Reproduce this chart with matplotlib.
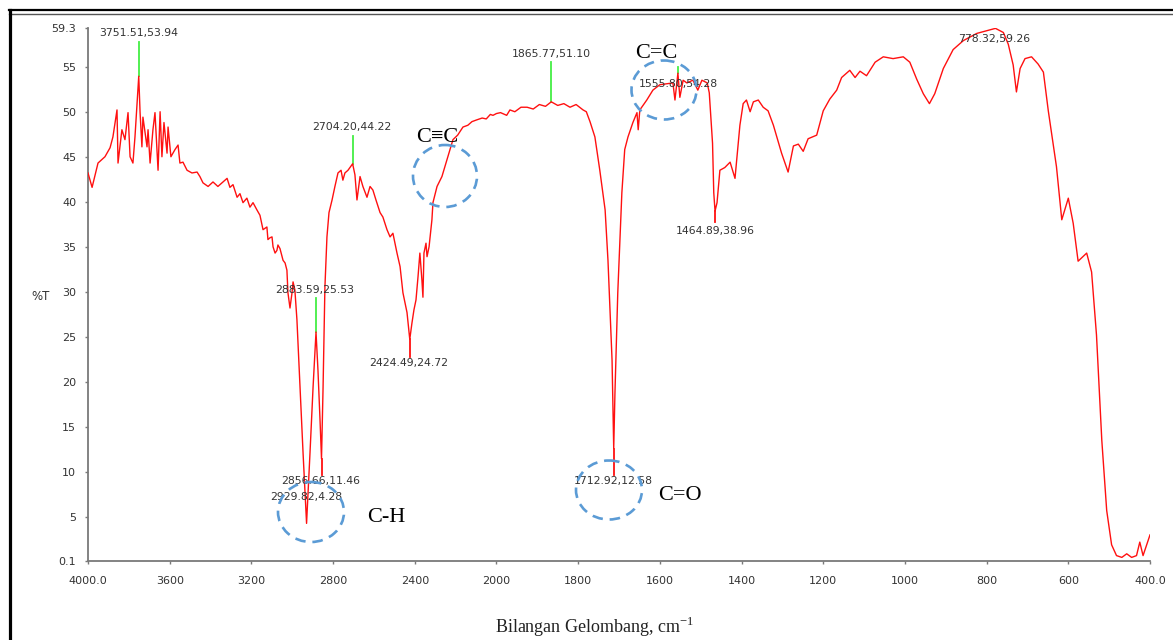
import matplotlib
matplotlib.use("Agg")
import matplotlib.pyplot as plt
from matplotlib.patches import Ellipse
import numpy as np

# FTIR spectrum (wavenumber in cm-1, %T)
wavenumber = [
    4000, 3980, 3951, 3917, 3892, 3878, 3858, 3853, 3834, 3819,
    3804, 3794, 3780, 3770, 3751.51, 3745, 3736, 3731, 3711, 3706,
    3696, 3682, 3672, 3657, 3647, 3638, 3628, 3613, 3608, 3594,
    3574, 3559, 3550, 3535, 3515, 3491, 3466, 3452, 3437, 3412,
    3388, 3364, 3339, 3319, 3305, 3290, 3270, 3256, 3241, 3222,
    3207, 3192, 3173, 3158, 3143, 3124, 3119, 3109, 3099, 3094,
    3084, 3075, 3070, 3060, 3050, 3045, 3035, 3026, 3021, 3011,
    3001, 2996, 2987, 2977, 2962, 2947, 2929.82, 2913, 2898, 2883.59,
    2874, 2864, 2856.66, 2849, 2840, 2830, 2820, 2805, 2791, 2776,
    2761, 2752, 2742, 2727, 2704.20, 2693, 2683, 2668, 2654, 2634,
    2619, 2605, 2590, 2570, 2556, 2536, 2521, 2507, 2487, 2472,
    2458, 2438, 2424.49, 2414, 2404, 2394, 2384, 2375, 2365, 2360,
    2355, 2345, 2340, 2330, 2316, 2311, 2291, 2267, 2242, 2228,
    2213, 2190, 2164, 2140, 2120, 2096, 2070, 2050, 2030, 2017,
    2000, 1990, 1975, 1967, 1955, 1940, 1925, 1910, 1895, 1880,
    1865.77, 1850, 1835, 1820, 1805, 1788, 1780, 1771, 1759, 1747,
    1734, 1727, 1717, 1712.92, 1710, 1703, 1693, 1686, 1678, 1666,
    1656, 1653, 1649, 1632, 1617, 1600, 1568, 1563, 1555.80, 1551,
    1543, 1534, 1519, 1507, 1497, 1484, 1479, 1471, 1468, 1464.89,
    1460, 1453, 1441, 1428, 1416, 1409, 1404, 1396, 1388, 1379,
    1371, 1359, 1347, 1335, 1322, 1302, 1286, 1273, 1261, 1249,
    1237, 1216, 1200, 1184, 1167, 1155, 1135, 1122, 1110, 1094,
    1073, 1053, 1029, 1004, 988, 971, 955, 940, 927, 906,
    882, 857, 824, 778.32, 759, 747, 735, 727, 718, 706,
    690, 674, 661, 649, 629, 616, 600, 588, 576, 555,
    543, 531, 518, 506, 494, 482, 469, 457, 445, 433,
    425, 417, 408, 400,
]
transmittance = [
    43.2, 41.6, 44.3, 45.0, 46.0, 47.2, 50.2, 44.3, 48.0, 46.9,
    49.9, 45.0, 44.3, 47.2, 53.94, 49.9, 46.1, 49.4, 46.1, 48.0,
    44.3, 48.0, 49.9, 43.5, 50.0, 45.0, 48.8, 45.4, 48.3, 45.0,
    45.8, 46.3, 44.3, 44.4, 43.5, 43.2, 43.3, 42.8, 42.1, 41.7,
    42.2, 41.7, 42.2, 42.6, 41.6, 41.9, 40.5, 40.9, 39.9, 40.4,
    39.4, 39.9, 39.1, 38.5, 36.9, 37.2, 35.8, 36.0, 36.1, 35.0,
    34.3, 34.6, 35.2, 34.8, 33.9, 33.5, 33.2, 32.4, 29.9, 28.2,
    29.9, 31.1, 30.2, 26.9, 19.4, 12.1, 4.28, 12.1, 19.4, 25.53,
    21.3, 15.8, 11.46, 19.4, 30.5, 36.1, 38.8, 40.2, 41.7, 43.2,
    43.5, 42.4, 43.2, 43.5, 44.22, 43.0, 40.2, 42.8, 41.7, 40.5,
    41.7, 41.3, 40.2, 38.8, 38.3, 36.9, 36.1, 36.5, 34.3, 32.8,
    29.9, 27.7, 24.72, 26.5, 28.0, 29.1, 31.7, 34.3, 31.3, 29.4,
    34.3, 35.4, 33.9, 35.0, 38.0, 39.9, 41.7, 42.8, 44.7, 45.8,
    46.9, 47.4, 48.3, 48.5, 48.9, 49.1, 49.3, 49.2, 49.7, 49.6,
    49.8, 49.9, 49.6, 50.2, 50.0, 50.5, 50.5, 50.3, 50.8, 50.6,
    51.10, 50.7, 50.9, 50.5, 50.8, 50.2, 50.0, 48.9, 47.2, 43.5,
    39.1, 33.5, 22.4, 12.58, 18.6, 29.9, 41.0, 45.8, 47.2, 48.8,
    49.9, 48.0, 50.2, 51.3, 52.4, 53.0, 53.2, 51.3, 54.28, 51.6,
    53.5, 53.2, 53.5, 52.4, 53.5, 53.2, 52.1, 46.5, 41.0, 38.96,
    39.9, 43.5, 43.8, 44.4, 42.6, 46.1, 48.5, 50.9, 51.3, 50.0,
    51.1, 51.3, 50.5, 50.1, 48.5, 45.4, 43.3, 46.2, 46.4, 45.6,
    47.0, 47.4, 50.1, 51.4, 52.4, 53.8, 54.6, 53.8, 54.5, 54.0,
    55.5, 56.1, 55.9, 56.1, 55.5, 53.6, 52.0, 50.9, 52.0, 54.8,
    56.9, 57.9, 58.7, 59.26, 58.8, 57.5, 55.2, 52.2, 54.8, 55.9,
    56.1, 55.3, 54.4, 50.1, 43.9, 38.0, 40.4, 37.6, 33.4, 34.3,
    32.2, 25.2, 13.5, 5.7, 1.9, 0.7, 0.5, 0.9, 0.5, 0.7,
    2.2, 0.7, 1.9, 3.0,
]

# picked peaks
peak_wn = [3751.51, 2929.82, 2883.59, 2856.66, 2704.20, 2424.49,
           1865.77, 1712.92, 1555.80, 1464.89, 778.32]
peak_t = [53.94, 4.28, 25.53, 11.46, 44.22, 24.72,
          51.10, 12.58, 54.28, 38.96, 59.26]

x_ticks = [4000, 3600, 3200, 2800, 2400, 2000, 1800, 1600, 1400, 1200, 1000, 800, 600, 400]
x_tick_labels = ["4000.0", "3600", "3200", "2800", "2400", "2000", "1800", "1600",
                 "1400", "1200", "1000", "800", "600", "400.0"]
y_ticks = [0.1, 5, 10, 15, 20, 25, 30, 35, 40, 45, 50, 55, 59.3]
y_tick_labels = ["0.1", "5", "10", "15", "20", "25", "30", "35", "40", "45", "50", "55", "59.3"]

groups = ["C-H", "C=O", "C\u2261C", "C=C"]


# the spectrometer plot squeezes 4000-2000 to half scale
def fwd(x):
    x = np.asarray(x, dtype=float)
    return np.where(x > 2000, 2000 + (x - 2000) / 2.0, x)


def inv(u):
    u = np.asarray(u, dtype=float)
    return np.where(u > 2000, 2000 + (u - 2000) * 2.0, u)


W, H = 1173, 640
fig = plt.figure(figsize=(W / 100, H / 100), dpi=100)
ax = fig.add_axes([88 / W, 1 - 561 / H, 1062 / W, 533 / H])
ax.set_xscale('function', functions=(fwd, inv))
ax.set_xlim(4000, 400)
ax.set_ylim(0.1, 59.3)

ax.plot(wavenumber, transmittance, color='#ff1010', lw=1.0, zorder=3)

# peak markers and labels
line_end = [57.8, None, 29.3, 9.65, 47.3, 22.8, 55.5, 9.65, 55.0, 37.7, 59.3]
text_t = [58.7, 7.2, 30.2, 9.0, 48.3, 22.1, 56.4, 9.0, 53.1, 36.7, 58.1]
text_dx = [0, 3, 6, 2, 6, 4, 0, 1, 0, 0, 3]
for wn, t, end, tt, dx in zip(peak_wn, peak_t, line_end, text_t, text_dx):
    if end is not None:
        col = '#44ee44' if end > t else '#ff1010'
        ax.plot([wn, wn], [t, end], color=col, lw=1.3, zorder=2)
    ax.text(wn + dx, tt, f"{wn:.2f},{t:.2f}", ha='center', va='center',
            fontsize=7.8, color='#333333', family='DejaVu Sans', zorder=4)

ax.set_xticks(x_ticks)
ax.set_xticklabels(x_tick_labels)
ax.set_yticks(y_ticks)
ax.set_yticklabels(y_tick_labels)
ax.xaxis.set_minor_locator(matplotlib.ticker.NullLocator())
for s in ['top', 'right']:
    ax.spines[s].set_visible(False)
for s in ['left', 'bottom']:
    ax.spines[s].set_color('#7a7a7a')
    ax.spines[s].set_linewidth(1.3)
ax.tick_params(direction='out', length=2.5, width=1, color='#7a7a7a',
               labelsize=8, labelcolor='#333333')
ax.tick_params(axis='x', pad=8)
ax.tick_params(axis='y', pad=6)
ax.patch.set_alpha(0)

fig.text(41 / W, 1 - 296 / H, "%T", ha='center', va='center', fontsize=8.5, color='#333333')
fig.text(595 / W, 1 - 627 / H, r"Bilangan Gelombang, cm$^{\mathregular{-1}}$",
         ha='center', va='center', fontsize=13, family='Liberation Serif', color='#222222')

# overlay in pixel units: frame, highlight circles, group labels
deco = fig.add_axes([0, 0, 1, 1], zorder=5)
deco.set_xlim(0, W)
deco.set_ylim(H, 0)
deco.axis('off')
deco.patch.set_alpha(0)
deco.plot([9, W], [10.3, 10.3], color='black', lw=1.6, clip_on=False)
deco.plot([9, W], [13.6, 13.6], color='#555555', lw=1.0, clip_on=False)
deco.plot([10, 10], [9.5, H], color='black', lw=2.3, clip_on=False)

circles = [(311, 512, 66, 60), (609, 490, 66, 59), (445, 176, 64, 62), (664, 90, 65, 59)]
label_pos = [(386, 518), (680, 496), (437, 138), (656, 53)]
for (cx, cy, w, h), (lx, ly), g in zip(circles, label_pos, groups):
    deco.add_patch(Ellipse((cx, cy), w, h, fill=False, ec='#5b9bd5', lw=1.9,
                           ls=(0, (4, 2.6))))
    deco.text(lx, ly, g, ha='center', va='center', fontsize=16,
              family=['Liberation Serif', 'DejaVu Serif'], color='black')

fig.savefig("out.png", dpi=100)
